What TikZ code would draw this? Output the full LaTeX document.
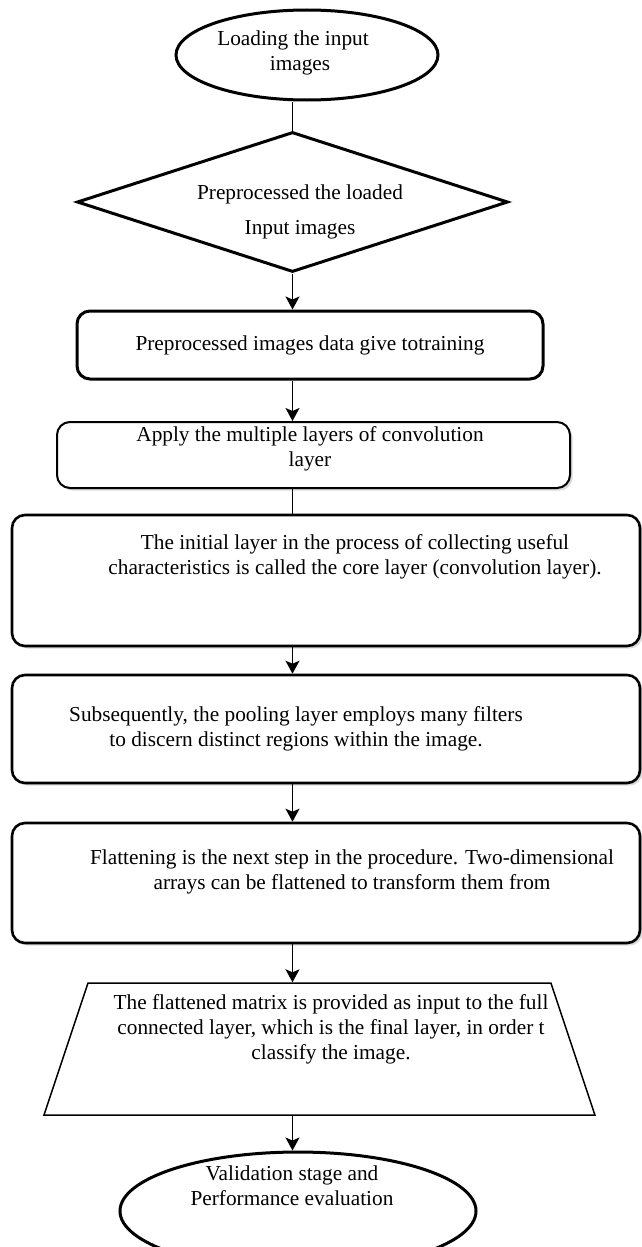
\documentclass[tikz,border=0pt]{standalone}
\usepackage{fontspec}
\setmainfont{Liberation Serif}
\usepackage{tikz}
\usetikzlibrary{positioning,arrows.meta,shapes.geometric,shadows}

\begin{document}
\begin{tikzpicture}[
x=1pt,y=-1pt,
font=\fontsize{21.3}{25}\selectfont,
termnode/.style={draw,ellipse,line width=3pt,inner sep=0pt,align=center},
decide/.style={draw,diamond,aspect=3,line width=3pt,inner sep=0pt},
stepbox/.style={draw,rounded corners=13pt,line width=2.6pt,fill=white,align=center},
shadowbox/.style={stepbox,drop shadow={opacity=0.3,shadow xshift=2.5pt,shadow yshift=-2.5pt}},
iobox/.style={draw,trapezium,trapezium left angle=71.57,trapezium right angle=71.57,line width=1.5pt,inner sep=0pt,text width=463pt,text height=132pt,text depth=0pt},
txt/.style={align=center,inner sep=0pt},
arr/.style={line width=1.5pt,-{Stealth[length=13pt,width=14pt,inset=3pt]}},
ln/.style={line width=1.3pt}
]
\useasboundingbox (0,0) rectangle (642,1247);

\node[termnode,minimum width=262pt,minimum height=90pt] (start) at (307,55) {};
\node[txt,below=22pt of start.north,xshift=-14pt] (starttxt) {Loading the input\\\hspace*{14pt}images};
\node[decide,minimum width=431pt,minimum height=140pt,below=29pt of start,xshift=-14.5pt] (prep) {};
\node[txt,below=54pt of prep.north,xshift=7.5pt] (preptxt) {Preprocessed the loaded\\[10pt]Input images};
\node[stepbox,line width=3pt,minimum width=466pt,minimum height=68pt,below=36pt of prep,xshift=17.5pt] (train) {Preprocessed images data give totraining};
\node[shadowbox,line width=2pt,minimum width=513pt,minimum height=66pt,below=40.5pt of train,xshift=3.5pt] (conv) {};
\node[txt,below=5pt of conv.north,xshift=-3.5pt] (convtxt) {Apply the multiple layers of convolution\\layer};

% boxes with the text near the top
\node[shadowbox,minimum width=628pt,minimum height=131pt,below=24.7pt of conv,xshift=12.5pt] (core) {};
\node[txt,below=21pt of core.north,xshift=29pt] (coretxt) {The initial layer in the process of collecting useful\\characteristics is called the core layer (convolution layer).};
\node[shadowbox,minimum width=628pt,minimum height=108pt,below=26.4pt of core] (pool) {};
\node[txt,below=33pt of pool.north,xshift=-30pt] (pooltxt) {Subsequently, the pooling layer employs many filters\\to discern distinct regions within the image.};
\node[shadowbox,minimum width=628pt,minimum height=120pt,below=37.4pt of pool] (flat) {};
\node[txt,below=28pt of flat.north,xshift=26pt] (flattxt) {Flattening is the next step in the procedure. Two-dimensional\\arrays can be flattened to transform them from};
\node[iobox,below=38pt of flat,xshift=-6.5pt] (fc) {};
\node[txt,below=12pt of fc.north,xshift=11.5pt] (fctxt) {The flattened matrix is provided as input to the full\\connected layer, which is the final layer, in order t\\classify the image.};
\node[termnode,minimum width=356pt,minimum height=118pt,below=34.7pt of fc,xshift=-21.5pt] (finish) {};
\node[txt,below=15pt of finish.north,xshift=-6pt] (finishtxt) {Validation stage and\\Performance evaluation};

\draw[ln] (prep.north |- start.south) -- (prep.north);
\draw[arr] (prep.south) -- (prep.south |- train.north);
\draw[arr] (prep.south |- train.south) -- (prep.south |- conv.north);
\draw[ln] (prep.south |- conv.south) -- (prep.south |- core.north);
\draw[arr] (prep.south |- core.south) -- (prep.south |- pool.north);
\draw[arr] (prep.south |- pool.south) -- (prep.south |- flat.north);
\draw[arr] (prep.south |- flat.south) -- (prep.south |- fc.north);
\draw[arr] (prep.south |- fc.south) -- (prep.south |- finish.north);
\end{tikzpicture}
\end{document}
